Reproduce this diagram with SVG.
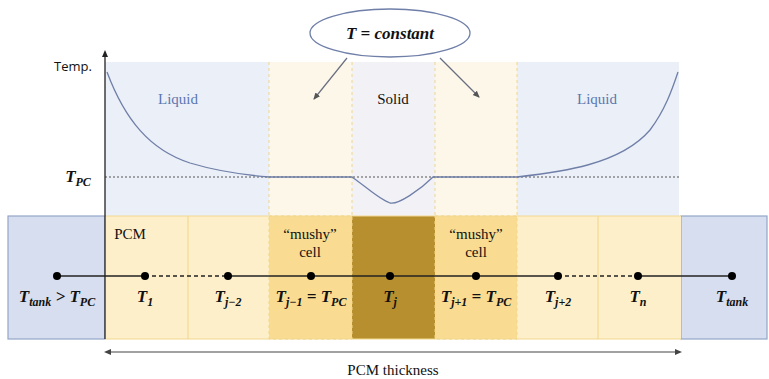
<svg xmlns="http://www.w3.org/2000/svg" width="769" height="379" viewBox="0 0 769 379">
<style>
.m{font-style:italic;font-weight:bold;font-size:17px;fill:#111;text-anchor:middle}
.s{font-size:15px;fill:#111;text-anchor:middle}
.liq{font-size:15px;fill:#5a78b0;text-anchor:middle}
.dv{stroke:#f0d78a;stroke-width:1;stroke-dasharray:3,3;fill:none}
.dot{fill:#000}
</style>
<defs>
<marker id="ah" markerWidth="8" markerHeight="8" refX="6" refY="4" orient="auto" markerUnits="userSpaceOnUse"><path d="M0,1 L7,4 L0,7 z" fill="#555"/></marker>
</defs>
<rect width="769" height="379" fill="#fff"/>
<g id="chart">
<rect x="105" y="62" width="574" height="154" fill="#ebeff7"/>
<rect x="269" y="62" width="83" height="154" fill="#fdf7ea"/>
<rect x="352" y="62" width="83" height="154" fill="#f2f2f6"/>
<rect x="435" y="62" width="82" height="154" fill="#fdf7ea"/>
<line class="dv" x1="269" y1="62" x2="269" y2="216"/>
<line class="dv" x1="352" y1="62" x2="352" y2="216"/>
<line class="dv" x1="435" y1="62" x2="435" y2="216"/>
<line class="dv" x1="517" y1="62" x2="517" y2="216"/>
<line x1="105" y1="177" x2="681" y2="177" stroke="#555" stroke-width="1" stroke-dasharray="2,2"/>
<path d="M107,72 C125,120 150,150 190,163 C220,172 245,175 269,177 L352,177 C365,186 380,200 390,203 C398,205 420,190 433,177 L517,177 C560,172 620,165 650,130 C665,110 672,90 678,72" fill="none" stroke="#6f7fa8" stroke-width="1.3"/>
<g font-family="Liberation Serif, serif">
<text x="178" y="104" class="liq">Liquid</text>
<text x="393" y="104" class="s">Solid</text>
<text x="597" y="104" class="liq">Liquid</text>
<text x="78" y="182" class="m">T<tspan font-size="12" dy="4">PC</tspan></text>
</g>
<text x="73" y="71" font-family="Open Sans, sans-serif" font-size="13" fill="#111" text-anchor="middle">Temp.</text>
</g>
<g id="ellipse">
<ellipse cx="390" cy="33" rx="80" ry="24" fill="#fff" stroke="#6f7fa8" stroke-width="1.3"/>
<text x="390" y="39" class="m" font-family="Liberation Serif, serif">T = constant</text>
</g>
<g id="band">
<rect x="8" y="216" width="97" height="123" fill="#d7deef" stroke="#95a6c8" stroke-width="1.2"/>
<rect x="681" y="216" width="86" height="123" fill="#d7deef" stroke="#95a6c8" stroke-width="1.2"/>
<rect x="105" y="216" width="164" height="123" fill="#fcefc9"/>
<rect x="517" y="216" width="164" height="123" fill="#fcefc9"/>
<rect x="269" y="216" width="83" height="123" fill="#f9dc92"/>
<rect x="435" y="216" width="82" height="123" fill="#f9dc92"/>
<rect x="352" y="216" width="83" height="123" fill="#b88f2e"/>
<line x1="188" y1="216" x2="188" y2="339" stroke="#f0d48a" stroke-width="1"/>
<line x1="598" y1="216" x2="598" y2="339" stroke="#f0d48a" stroke-width="1"/>
<line x1="105" y1="216" x2="681" y2="216" stroke="#f2d88e" stroke-width="1"/>
<line x1="105" y1="339" x2="681" y2="339" stroke="#f2d88e" stroke-width="1"/>
<rect x="269" y="216" width="83" height="123" class="dv" stroke="#efce78"/>
<rect x="435" y="216" width="82" height="123" class="dv" stroke="#efce78"/>
<g font-family="Liberation Serif, serif">
<text x="130" y="239" class="s">PCM</text>
<text x="310" y="239" class="s">“mushy”</text>
<text x="310" y="257" class="s">cell</text>
<text x="476" y="239" class="s">“mushy”</text>
<text x="476" y="257" class="s">cell</text>
</g>
</g>
<g id="axes">
<line x1="105" y1="339" x2="105" y2="55" stroke="#222" stroke-width="1.3"/>
<path d="M102,57 L105,50 L108,57 z" fill="#222"/>
</g>
<g id="connectors">
<line x1="347" y1="58" x2="314" y2="99" stroke="#6a6f80" stroke-width="1.2" marker-end="url(#ah)"/>
<line x1="440" y1="58" x2="479" y2="97" stroke="#6a6f80" stroke-width="1.2" marker-end="url(#ah)"/>
<line x1="58" y1="276" x2="145" y2="276" stroke="#222" stroke-width="1.3"/>
<line x1="145" y1="276" x2="228" y2="276" stroke="#222" stroke-width="1.3" stroke-dasharray="4,3"/>
<line x1="228" y1="276" x2="558" y2="276" stroke="#222" stroke-width="1.3"/>
<line x1="558" y1="276" x2="638" y2="276" stroke="#222" stroke-width="1.3" stroke-dasharray="4,3"/>
<line x1="638" y1="276" x2="732" y2="276" stroke="#222" stroke-width="1.3"/>
<line x1="108" y1="352" x2="678" y2="352" stroke="#444" stroke-width="1.2"/>
<path d="M104,352 L111,349 L111,355 z" fill="#444"/>
<path d="M682,352 L675,349 L675,355 z" fill="#444"/>
</g>
<g id="nodes">
<circle class="dot" cx="57" cy="276" r="4"/>
<circle class="dot" cx="145" cy="276" r="4"/>
<circle class="dot" cx="228" cy="276" r="4"/>
<circle class="dot" cx="311" cy="276" r="4"/>
<circle class="dot" cx="390" cy="276" r="4"/>
<circle class="dot" cx="476" cy="276" r="4"/>
<circle class="dot" cx="558" cy="276" r="4"/>
<circle class="dot" cx="638" cy="276" r="4"/>
<circle class="dot" cx="732" cy="276" r="4"/>
<g font-family="Liberation Serif, serif">
<text x="57" y="302" class="m">T<tspan font-size="12" dy="4">tank</tspan><tspan dy="-4"> &gt; T</tspan><tspan font-size="12" dy="4">PC</tspan></text>
<text x="145" y="302" class="m">T<tspan font-size="12" dy="4">1</tspan></text>
<text x="228" y="302" class="m">T<tspan font-size="12" dy="4">j−2</tspan></text>
<text x="311" y="302" class="m">T<tspan font-size="12" dy="4">j−1</tspan><tspan dy="-4"> = T</tspan><tspan font-size="12" dy="4">PC</tspan></text>
<text x="390" y="302" class="m">T<tspan font-size="12" dy="4">j</tspan></text>
<text x="476" y="302" class="m">T<tspan font-size="12" dy="4">j+1</tspan><tspan dy="-4"> = T</tspan><tspan font-size="12" dy="4">PC</tspan></text>
<text x="558" y="302" class="m">T<tspan font-size="12" dy="4">j+2</tspan></text>
<text x="638" y="302" class="m">T<tspan font-size="12" dy="4">n</tspan></text>
<text x="732" y="302" class="m">T<tspan font-size="12" dy="4">tank</tspan></text>
<text x="393" y="375" class="s">PCM thickness</text>
</g>
</g>
</svg>
